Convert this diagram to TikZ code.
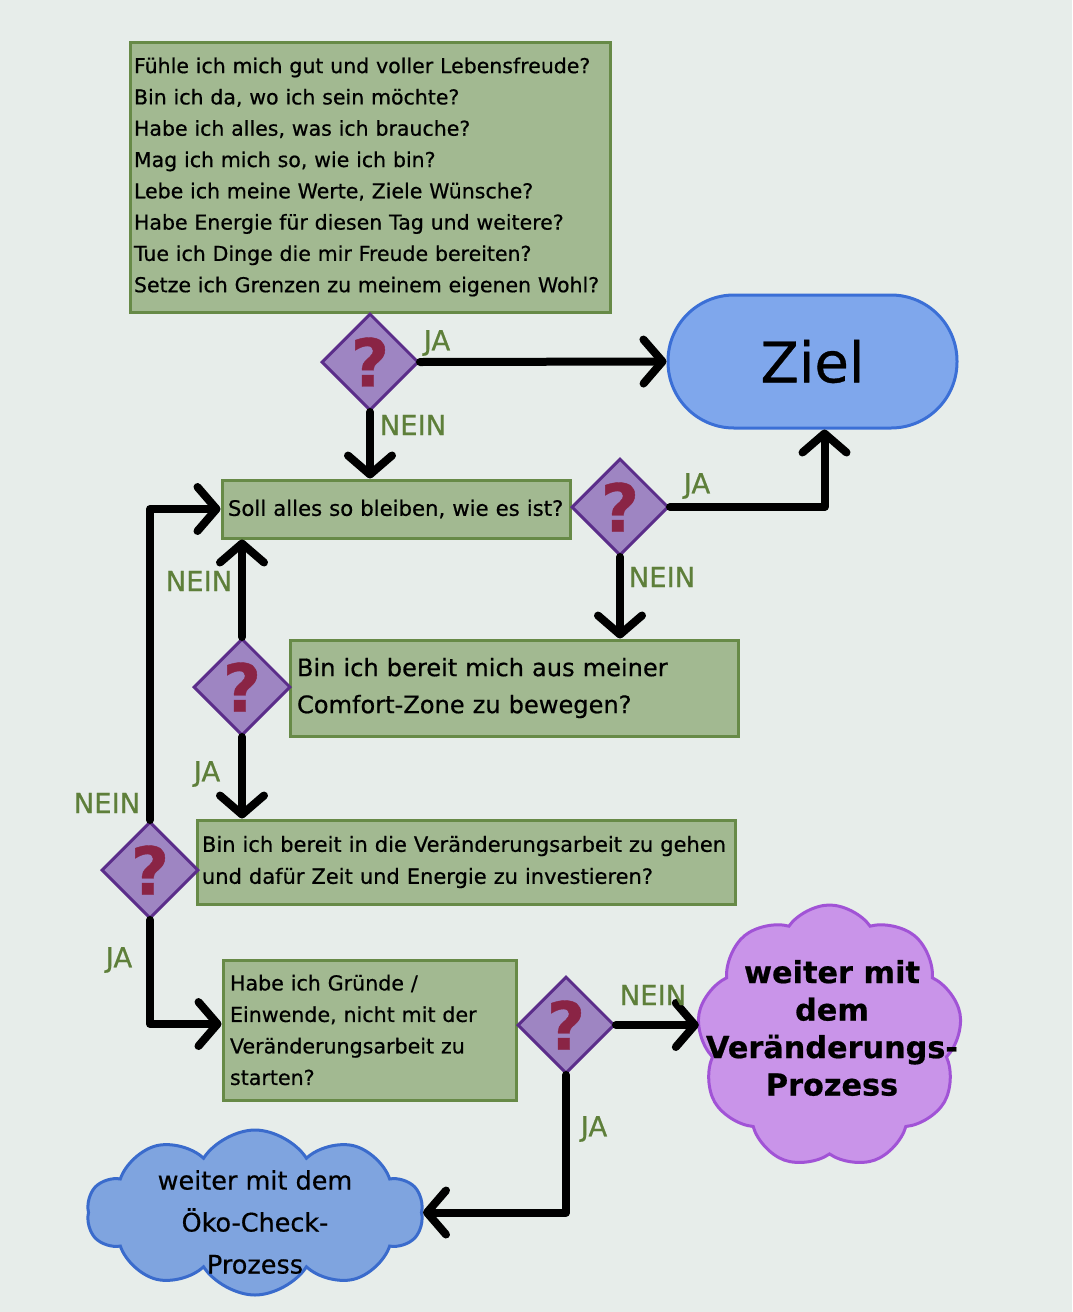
\documentclass[tikz,border=0pt]{standalone}
\usepackage{fontspec}
\setmainfont{DejaVu Sans}[FakeBold=0.6]
\usetikzlibrary{shapes.geometric,shapes.symbols,arrows.meta}
\definecolor{bg}{HTML}{E7EDEA}
\definecolor{boxfill}{HTML}{A2B991}
\definecolor{boxline}{HTML}{678A47}
\definecolor{decfill}{HTML}{9E85C2}
\definecolor{decline}{HTML}{5B2D8A}
\definecolor{qcol}{HTML}{8A2445}
\definecolor{labcol}{HTML}{5E7F3A}
\definecolor{zielfill}{HTML}{7FA7EC}
\definecolor{zielline}{HTML}{3B6FD6}
\definecolor{purpfill}{HTML}{C994E9}
\definecolor{purpline}{HTML}{A153D6}
\definecolor{bluefill}{HTML}{7FA4DF}
\definecolor{blueline}{HTML}{3A6BCC}
\begin{document}
\begin{tikzpicture}[x=1pt,y=-1pt,
  box/.style={draw=boxline, fill=boxfill, line width=3pt, rectangle, inner sep=6pt, align=left},
  dec/.style={diamond, draw=decline, fill=decfill, line width=3pt, minimum width=97pt, minimum height=97pt, inner sep=0pt, text=qcol, font=\fontsize{66}{66}\selectfont\bfseries},
  flow/.style={line width=8pt, -{Straight Barb[length=19pt,width=44pt,round]}, line join=round, line cap=round},
  lab/.style={text=labcol, font=\fontsize{27.5}{27.5}\selectfont},
]
\fill[bg] (0,0) rectangle (1072,1312);
\useasboundingbox (0,0) rectangle (1072,1312);

% boxes
\node[box, inner sep=4pt, minimum width=480pt, minimum height=270pt, text width=472pt, font=\fontsize{20.5}{31.3}\selectfont] (b1) at (370,177) {Fühle ich mich gut und voller Lebensfreude?\\Bin ich da, wo ich sein möchte?\\Habe ich alles, was ich brauche?\\Mag ich mich so, wie ich bin?\\Lebe ich meine Werte, Ziele Wünsche?\\Habe Energie für diesen Tag und weitere?\\Tue ich Dinge die mir Freude bereiten?\\Setze ich Grenzen zu meinem eigenen Wohl?};
\node[box, minimum width=348pt, minimum height=58pt, text width=336pt, font=\fontsize{21.2}{31}\selectfont] (b2) at (396,509) {Soll alles so bleiben, wie es ist?};
\node[box, minimum width=448pt, minimum height=96pt, text width=434pt, font=\fontsize{24.1}{37}\selectfont] (b3) at (514,688) {Bin ich bereit mich aus meiner\\Comfort-Zone zu bewegen?};
\node[box, minimum width=538pt, minimum height=84pt, text width=528pt, inner sep=5pt, font=\fontsize{21}{32}\selectfont] (b4) at (466,862) {Bin ich bereit in die Veränderungsarbeit zu gehen\\und dafür Zeit und Energie zu investieren?};
\node[box, minimum width=293pt, minimum height=140pt, text width=279pt, font=\fontsize{20.6}{31.5}\selectfont] (b5) at (369.5,1030) {Habe ich Gründe /\\Einwende, nicht mit der\\Veränderungsarbeit zu\\starten?};

% goal
\node[draw=zielline, fill=zielfill, line width=3pt, rectangle, rounded corners=66pt, minimum width=289pt, minimum height=133pt, font=\fontsize{56}{56}\selectfont] (ziel) at (812.5,361.5) {Ziel};

% clouds
\node[cloud, cloud puffs=9, cloud puff arc=110, aspect=1, draw=purpline, fill=purpfill, line width=3pt, minimum width=265pt, minimum height=263pt, inner sep=0pt] (c1) at (829.5,1036.5) {};
\node[align=center, font=\fontsize{30.3}{37.5}\selectfont\bfseries] (c1t) at (832,1028) {weiter mit\\dem\\Veränderungs-\\Prozess};
\node[cloud, cloud puffs=10, cloud puff arc=115, aspect=2, draw=blueline, fill=bluefill, line width=3pt, minimum width=336pt, minimum height=165pt, inner sep=0pt] (c2) at (255,1212.5) {};
\node[align=center, font=\fontsize{25.5}{42}\selectfont] (c2t) at (255,1222) {weiter mit dem\\Öko-Check-\\Prozess};

% decisions
\node[dec] (d1) at (370,362) {?};
\node[dec] (d2) at (620,507) {?};
\node[dec] (d3) at (242,687) {?};
\node[dec] (d4) at (150,870) {?};
\node[dec] (d5) at (566,1025) {?};

% connectors
\draw[flow] (d1.east) -- (ziel.west);
\draw[flow] (d1.south) -- (d1.south |- b2.north);
\draw[flow] (d2.east) -| ([xshift=12pt]ziel.south);
\draw[flow] (d2.south) -- (d2.south |- b3.north);
\draw[flow] (d3.north) -- (d3.north |- b2.south);
\draw[flow] (d3.south) -- (d3.south |- b4.north);
\draw[flow] (d4.north) |- (b2.west);
\draw[flow] (d4.south) |- ([yshift=6pt]b5.west);
\draw[flow] (d5.east) -- (d5.east -| c1.west);
\draw[flow] (d5.south) |- (c2.east);

% labels
\node[lab] (l1) at (437,343) {JA};
\node[lab] (l2) at (413,425) {NEIN};
\node[lab] (l3) at (697,486) {JA};
\node[lab] (l4) at (662,577) {NEIN};
\node[lab] (l5) at (199,581) {NEIN};
\node[lab] (l6) at (207,774) {JA};
\node[lab] (l7) at (107,803) {NEIN};
\node[lab] (l8) at (119,960) {JA};
\node[lab] (l9) at (653,995) {NEIN};
\node[lab] (l10) at (594,1129) {JA};
\end{tikzpicture}
\end{document}
